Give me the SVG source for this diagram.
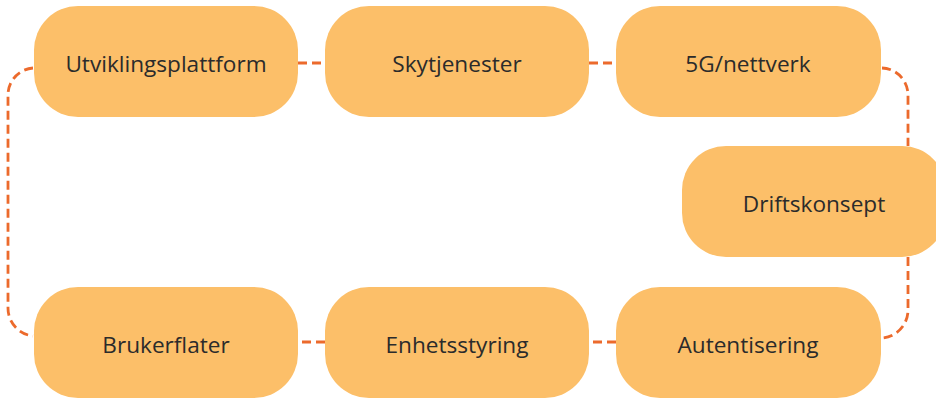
<svg xmlns="http://www.w3.org/2000/svg" width="936" height="399" viewBox="0 0 936 399">
  <style>
    .box { fill: #FCBF69; }
    .lbl { font-family: "Open Sans", "Liberation Sans", sans-serif; font-size: 22.6px; fill: #2B2B2B; text-anchor: middle; dominant-baseline: central; }
    .link { fill: none; stroke: #EC6A2C; stroke-width: 2.8; stroke-dasharray: 9 5; }
  </style>
  <rect width="936" height="399" fill="#FFFFFF"/>

  <!-- dashed connectors -->
  <g id="connectors">
    <path class="link" d="M298 63 H325"/>
    <path class="link" d="M589 63 H616"/>
    <path class="link" d="M882 68 A27 27 0 0 1 908 95 V146"/>
    <path class="link" d="M908 257 V310 A28 28 0 0 1 882 338"/>
    <path class="link" d="M616 342 H589"/>
    <path class="link" d="M325 342 H298"/>
    <path class="link" d="M33 68 A27 27 0 0 0 8 95 V308 A28 28 0 0 0 33 336"/>
  </g>

  <g id="utviklingsplattform">
    <rect class="box" x="34" y="6" width="264" height="111" rx="44"/>
    <text class="lbl" x="166" y="63">Utviklingsplattform</text>
  </g>
  <g id="skytjenester">
    <rect class="box" x="325" y="6" width="264" height="111" rx="44"/>
    <text class="lbl" x="457" y="63">Skytjenester</text>
  </g>
  <g id="nettverk">
    <rect class="box" x="616" y="6" width="265" height="111" rx="44"/>
    <text class="lbl" x="748" y="63">5G/nettverk</text>
  </g>
  <g id="driftskonsept">
    <rect class="box" x="682" y="146" width="264" height="111" rx="44"/>
    <text class="lbl" x="814" y="203">Driftskonsept</text>
  </g>
  <g id="autentisering">
    <rect class="box" x="616" y="287" width="265" height="111" rx="44"/>
    <text class="lbl" x="748" y="344">Autentisering</text>
  </g>
  <g id="enhetsstyring">
    <rect class="box" x="325" y="287" width="264" height="111" rx="44"/>
    <text class="lbl" x="457" y="344">Enhetsstyring</text>
  </g>
  <g id="brukerflater">
    <rect class="box" x="34" y="287" width="264" height="111" rx="44"/>
    <text class="lbl" x="166" y="344">Brukerflater</text>
  </g>
</svg>
